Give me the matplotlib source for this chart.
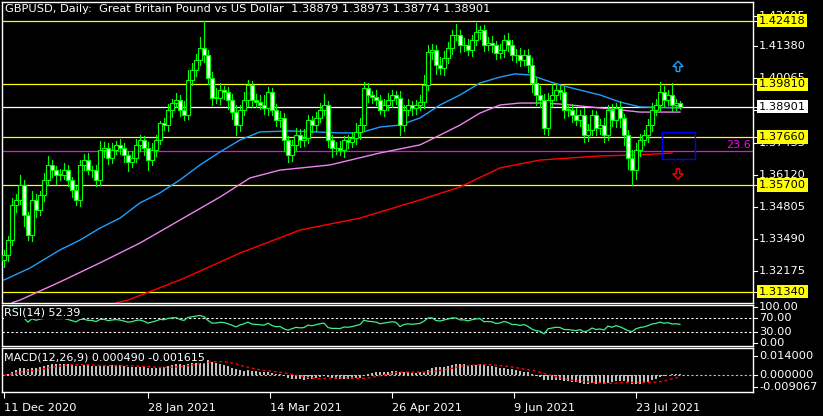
import matplotlib
matplotlib.use('Agg')
import matplotlib.pyplot as plt
from matplotlib.patches import Rectangle, FancyArrow
import numpy as np

# ── data ──
closes = [
    1.3284, 1.3345, 1.3488, 1.3509, 1.3570, 1.3448, 1.3366, 1.3509, 1.3468, 1.3529,
    1.3591, 1.3652, 1.3631, 1.3611, 1.3611, 1.3631, 1.3591, 1.3550, 1.3509, 1.3652,
    1.3672, 1.3631, 1.3631, 1.3591, 1.3713, 1.3721, 1.3680, 1.3713, 1.3734, 1.3721,
    1.3693, 1.3664, 1.3680, 1.3734, 1.3754, 1.3721, 1.3672, 1.3713, 1.3754, 1.3823,
    1.3815, 1.3877, 1.3905, 1.3917, 1.3877, 1.3856, 1.3999, 1.4040, 1.4081, 1.4130,
    1.4101, 1.4007, 1.3926, 1.3926, 1.3958, 1.3950, 1.3917, 1.3868, 1.3815, 1.3877,
    1.3917, 1.3979, 1.3917, 1.3909, 1.3897, 1.3885, 1.3950, 1.3877, 1.3836, 1.3844,
    1.3754, 1.3693, 1.3734, 1.3774, 1.3754, 1.3762, 1.3836, 1.3815, 1.3844, 1.3877,
    1.3897, 1.3754, 1.3721, 1.3721, 1.3713, 1.3754, 1.3746, 1.3762, 1.3787, 1.3815,
    1.3966, 1.3938, 1.3930, 1.3917, 1.3877, 1.3897, 1.3917, 1.3938, 1.3926, 1.3815,
    1.3877, 1.3897, 1.3885, 1.3897, 1.3909, 1.3979, 1.4114, 1.4122, 1.4060, 1.4048,
    1.4089, 1.4130, 1.4183, 1.4183, 1.4142, 1.4142, 1.4122, 1.4163, 1.4195, 1.4203,
    1.4142, 1.4150, 1.4142, 1.4109, 1.4122, 1.4163, 1.4142, 1.4101, 1.4101, 1.4081,
    1.4101, 1.4060, 1.3987, 1.3938, 1.3917, 1.3803, 1.3917, 1.3938, 1.3958, 1.3950,
    1.3877, 1.3877, 1.3856, 1.3836, 1.3856, 1.3774, 1.3795, 1.3856, 1.3803, 1.3815,
    1.3774, 1.3877, 1.3836, 1.3885, 1.3844, 1.3774, 1.3680, 1.3631, 1.3713, 1.3754,
    1.3774, 1.3815, 1.3877, 1.3897, 1.3950, 1.3917, 1.3938, 1.3897, 1.3905, 1.38901,
]
hi_ext = [  # pips above body
    20, 15, 30, 25, 40, 20, 10, 35, 25, 15, 30, 35, 20, 15, 25, 30, 20, 10, 15, 20,
    25, 30, 15, 20, 35, 25, 20, 30, 15, 25, 20, 15, 30, 25, 20, 15, 25, 30, 20, 10,
    20, 25, 15, 30, 20, 35, 40, 30, 25, 45, 110, 20, 25, 40, 30, 15, 20, 25, 30, 20,
    35, 20, 15, 25, 30, 40, 20, 15, 25, 30, 20, 15, 20, 30, 25, 35, 20, 15, 25, 30,
    45, 15, 20, 25, 30, 15, 20, 25, 35, 30, 25, 20, 15, 30, 20, 25, 30, 20, 15, 30,
    20, 25, 15, 20, 30, 40, 30, 25, 20, 35, 30, 25, 20, 45, 20, 30, 25, 20, 35, 15,
    20, 25, 30, 15, 25, 20, 30, 20, 25, 30, 20, 25, 30, 20, 35, 25, 30, 45, 25, 20,
    20, 15, 25, 30, 20, 30, 25, 20, 15, 25, 30, 20, 25, 20, 30, 15, 20, 35, 30, 25,
    20, 25, 30, 25, 40, 25, 20, 50, 15, 10,
]
lo_ext = [  # pips below body
    30, 25, 20, 30, 15, 45, 20, 25, 30, 20, 25, 20, 30, 35, 20, 15, 25, 30, 20, 25,
    20, 15, 30, 25, 20, 30, 25, 20, 15, 25, 30, 35, 20, 15, 25, 30, 40, 20, 25, 15,
    20, 25, 30, 15, 25, 20, 15, 20, 25, 20, 30, 25, 30, 20, 25, 30, 35, 30, 40, 25,
    20, 25, 30, 20, 15, 25, 30, 20, 25, 30, 40, 30, 25, 20, 30, 25, 20, 30, 25, 15,
    20, 30, 35, 25, 20, 30, 25, 20, 25, 30, 20, 30, 25, 20, 15, 25, 20, 30, 25, 40,
    25, 20, 30, 25, 20, 25, 20, 30, 35, 25, 30, 20, 25, 20, 30, 25, 20, 25, 20, 30,
    25, 20, 30, 25, 20, 30, 25, 20, 30, 25, 20, 30, 35, 40, 30, 25, 30, 25, 20, 30,
    35, 25, 30, 20, 25, 30, 25, 20, 30, 25, 30, 20, 25, 30, 35, 40, 45, 60, 35, 25,
    20, 30, 25, 20, 25, 30, 20, 25, 20, 10,
]
# moving averages (bar index, price)
ma_blue_x = [0, 6.5, 14, 19, 24, 29, 34, 39, 44, 49, 54, 59, 64, 71.5, 84, 89, 94, 99,
             104, 109, 114, 119, 124, 127.7, 131.5, 135.2, 139, 144, 149, 154, 159, 169]
ma_blue_y = [1.3182, 1.3231, 1.3305, 1.3345, 1.3394, 1.3435, 1.3497, 1.3538, 1.3591,
             1.3652, 1.3705, 1.3754, 1.3787, 1.3791, 1.3783, 1.3783, 1.3807, 1.3815,
             1.3844, 1.3897, 1.3938, 1.3987, 1.4011, 1.4024, 1.4020, 1.3999, 1.3979,
             1.3958, 1.3938, 1.3909, 1.3889, 1.3885]
ma_pink_x = [2, 4, 14, 24, 34, 44, 54, 61.5, 69, 81.5, 94, 104, 109, 114, 119, 124,
             129, 134, 139, 144, 149, 154, 159, 169]
ma_pink_y = [1.3089, 1.3100, 1.3174, 1.3252, 1.3333, 1.3427, 1.3521, 1.3599, 1.3631,
             1.3652, 1.3701, 1.3734, 1.3774, 1.3815, 1.3864, 1.3897, 1.3905, 1.3905,
             1.3901, 1.3893, 1.3885, 1.3877, 1.3868, 1.3868]
ma_red_x = [28, 31, 44, 54, 59, 74, 89, 104, 114, 124, 134, 149, 159, 167]
ma_red_y = [1.3089, 1.3100, 1.3182, 1.3255, 1.3292, 1.3386, 1.3435, 1.3509, 1.3562,
            1.3640, 1.3672, 1.3689, 1.3693, 1.3701]

levels_yellow = [1.42418, 1.39810, 1.37660, 1.35700, 1.31340]
last_price = 1.38901
fibo_level = 1.3709
price_ticks = [1.42605, 1.41380, 1.40065, 1.38750, 1.37435, 1.36120, 1.34805, 1.33490, 1.32175]
date_pos = [0, 36, 66.5, 97, 127.5, 158]
date_labels = ['11 Dec 2020', '28 Jan 2021', '14 Mar 2021', '26 Apr 2021', '9 Jun 2021', '23 Jul 2021']

W, H = 823, 416
BG = 'black'
GREEN = '#00ff00'
YEL = '#ffff00'


def px_axes(fig, x0, y0, x1, y1):
    return fig.add_axes([x0 / W, 1 - y1 / H, (x1 - x0) / W, (y1 - y0) / H])


def style(ax):
    ax.set_facecolor(BG)
    for s in ax.spines.values():
        s.set_color('white')
        s.set_linewidth(1.0)
    ax.set_xticks([])
    ax.set_yticks([])


def rlabel(ax, y, txt, fc=None, color='white', z=3):
    kw = dict(transform=ax.get_yaxis_transform(), fontsize=8.2, va='center', ha='left',
              color=color, family='DejaVu Sans', clip_on=False, zorder=z)
    if fc:
        kw['bbox'] = dict(boxstyle='square,pad=0.15', fc=fc, ec='none')
    ax.text(1.008, y, txt, **kw)
    ax.plot([1.0, 1.005], [y, y], color='white', lw=0.8, transform=ax.get_yaxis_transform(),
            clip_on=False)


c = np.array(closes)
o = np.r_[c[0] - 0.002, c[:-1]]
hi = np.maximum(o, c) + np.array(hi_ext) * 1e-4
lo = np.minimum(o, c) - np.array(lo_ext) * 1e-4
n = len(c)
xs = np.arange(n)
XL = (-0.5, (753 - 4) / 4.0)

fig = plt.figure(figsize=(W / 100, H / 100), dpi=100, facecolor=BG)

# ── main price panel ──
ax = px_axes(fig, 2, 2, 753, 303)
style(ax)
ax.set_xlim(*XL)
ax.set_ylim(1.4326 - 0.0004086 * 303, 1.4326 - 0.0004086 * 2)
for lv in levels_yellow:
    ax.axhline(lv, color=YEL, lw=0.9)
ax.axhline(last_price, color='white', lw=0.9)
ax.axhline(fibo_level, color='#ff00ff', lw=0.9)
ax.plot(ma_red_x, ma_red_y, color='#ff0000', lw=1.0)
ax.plot(ma_pink_x, ma_pink_y, color='#ee82ee', lw=1.0)
ax.plot(ma_blue_x, ma_blue_y, color='#1e9fff', lw=1.0)
for i in range(n):
    ax.plot([xs[i], xs[i]], [lo[i], hi[i]], color=GREEN, lw=0.8, zorder=3)
    bot, top = min(o[i], c[i]), max(o[i], c[i])
    fc = 'white' if c[i] < o[i] else 'black'
    ax.add_patch(Rectangle((xs[i] - 0.4, bot), 0.8, max(top - bot, 0.0002), fc=fc,
                           ec=GREEN, lw=0.8, zorder=4))
ax.add_patch(Rectangle((164.5, 1.3676), 8.2, 0.0112, fill=False, ec='#0000ff', lw=1.0, zorder=5))
ax.add_patch(FancyArrow(168.5, 1.4034, 0, 0.0042, width=0.9, head_width=2.6, head_length=0.0022,
                        length_includes_head=True, fc='black', ec='#1e9fff', lw=1.0, zorder=5))
ax.add_patch(FancyArrow(168.5, 1.3636, 0, -0.0042, width=0.9, head_width=2.6, head_length=0.0022,
                        length_includes_head=True, fc='black', ec='#ff0000', lw=1.0, zorder=5))
ax.text(180.5, fibo_level + 0.0003, '23.6', color='#ff00ff', fontsize=8, va='bottom', ha='left')
ax.text(0.004, 0.995, 'GBPUSD, Daily:  Great Britain Pound vs US Dollar  1.38879 1.38973 1.38774 1.38901',
        transform=ax.transAxes, color='white', fontsize=8.2, va='top', ha='left')
for t in price_ticks:
    rlabel(ax, t, f'{t:.5f}')
for lv in levels_yellow:
    rlabel(ax, lv, f'{lv:.5f}', fc=YEL, color='black', z=6)
rlabel(ax, last_price, f'{last_price:.5f}', fc='white', color='black', z=6)

# ── RSI panel ──
d = np.diff(c)
up, dn = np.where(d > 0, d, 0), np.where(d < 0, -d, 0)
ag, al = up[:14].mean(), dn[:14].mean()
rsi = [np.nan] * n
for i in range(1, n):
    if i > 14:
        ag = (ag * 13 + up[i - 1]) / 14
        al = (al * 13 + dn[i - 1]) / 14
        rsi[i] = 100 - 100 / (1 + ag / max(al, 1e-9))
    else:
        g, l = up[:i].mean(), dn[:i].mean()
        rsi[i] = 100 - 100 / (1 + g / max(l, 1e-9))
ar = px_axes(fig, 2, 305, 753, 346)
style(ar)
ar.set_xlim(*XL)
ar.set_ylim(-8, 106)
ar.axhline(70, color='white', lw=0.8, ls=(0, (2, 2)))
ar.axhline(30, color='white', lw=0.8, ls=(0, (2, 2)))
ar.plot(xs, rsi, color='#3cf08c', lw=0.9)
ar.text(0.003, 0.93, 'RSI(14) 52.39', transform=ar.transAxes, color='white', fontsize=8,
        va='top', ha='left', bbox=dict(fc=BG, ec='none', pad=0.5))
for v in [100, 70, 30, 0]:
    rlabel(ar, v, f'{v:.2f}')

# ── MACD panel ──
def ema(a, p):
    k = 2 / (p + 1)
    out = [a[0]]
    for v in a[1:]:
        out.append(out[-1] + k * (v - out[-1]))
    return np.array(out)

macd = ema(c, 12) - ema(c, 26)
sig = np.array([macd[max(0, i - 8):i + 1].mean() for i in range(n)])
am = px_axes(fig, 2, 348, 753, 392)
style(am)
am.set_xlim(*XL)
am.set_ylim(-0.0125, 0.0199)
am.axhline(0, color='#c0c0c0', lw=0.8, ls=(0, (2, 2)))
am.bar(xs, macd, width=0.35, color='#c0c0c0')
am.plot(xs, sig, color='#ff0000', lw=1.0, ls=(0, (2, 2)))
am.text(0.003, 0.9, 'MACD(12,26,9) 0.000490 -0.001615', transform=am.transAxes, color='white',
        fontsize=8, va='top', ha='left', bbox=dict(fc=BG, ec='none', pad=0.5))
for v, t in [(0.014, '0.014000'), (0.0, '0.000000'), (-0.009067, '-0.009067')]:
    rlabel(am, v, t)
am.set_xticks(date_pos)
am.set_xticklabels(date_labels, ha='left', color='white', fontsize=8.2)
am.tick_params(axis='x', colors='white', length=4, pad=4)

fig.savefig('out.png', dpi=100, facecolor=BG)
